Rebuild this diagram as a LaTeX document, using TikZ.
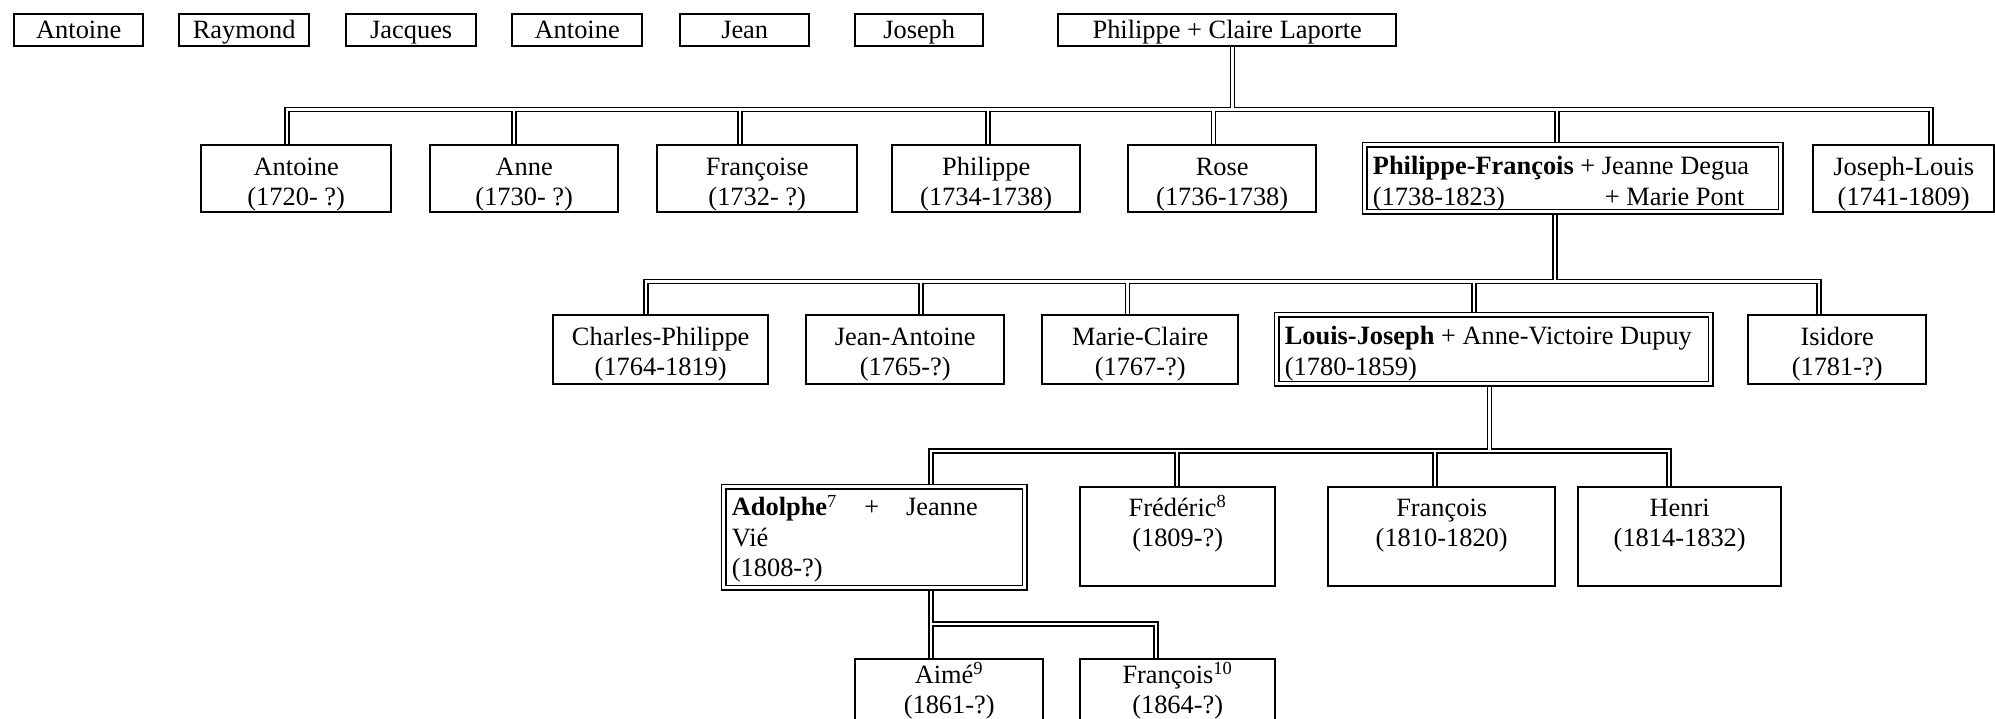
\documentclass[tikz,border=0pt]{standalone}
\usepackage{fontspec}
\setmainfont{Liberation Serif}
\usetikzlibrary{backgrounds}
\newdimen\px
\px=0.5pt

\begin{document}
\begin{tikzpicture}[x=0.5pt, y=-0.5pt,
				font=\fontsize{13.2}{15.25}\selectfont,
				pbox/.style n args={3}{draw, line width=1.2pt, inner sep=0pt, anchor=north west,
					execute at begin node={\begin{minipage}[t][#2\px][t]{#1\px}\centering\rule{0pt}{#3\px}},
					execute at end node={\end{minipage}}},
				lbox/.style n args={3}{draw, double, line width=0.85pt, double distance=1.4pt, inner ysep=0pt, inner xsep=4pt, anchor=north west,
					execute at begin node={\begin{minipage}[t][#2\px][t]{#1\px}\raggedright\rule{0pt}{#3\px}},
					execute at end node={\end{minipage}}},
				link/.style={draw, double, line width=0.9pt, double distance=1.1pt}]

				\useasboundingbox (0,0) rectangle (1995,718);
				\clip (0,0) rectangle (1995,718);

				% top row
				\node (top1) [pbox={129}{32}{24}] at (13,13) {Antoine};
				\node (top2) [pbox={130}{32}{24}] at (178,13) {Raymond};
				\node (top3) [pbox={130}{32}{24}] at (345,13) {Jacques};
				\node (top4) [pbox={130}{32}{24}] at (511,13) {Antoine};
				\node (top5) [pbox={129}{32}{24}] at (679,13) {Jean};
				\node (top6) [pbox={128}{32}{24}] at (854,13) {Joseph};
				\node (pc) [pbox={338}{32}{24}] at (1057,13) {Philippe + Claire Laporte};

				% children of Philippe
				\node (gen1a) [pbox={190}{67}{30}] at (200,144) {Antoine\\(1720- ?)};
				\node (gen1b) [pbox={188}{67}{30}] at (429,144) {Anne\\(1730- ?)};
				\node (gen1c) [pbox={200}{67}{30}] at (656,144) {Françoise\\(1732- ?)};
				\node (gen1d) [pbox={188}{67}{30}] at (891,144) {Philippe\\(1734-1738)};
				\node (gen1e) [pbox={188}{67}{30}] at (1127,144) {Rose\\(1736-1738)};
				\node (pf) [lbox={400}{67}{30}] at (1364,144) {\textbf{Philippe-François} + Jeanne Degua\\\makebox[232\px][l]{(1738-1823)}+ Marie Pont};
				\node (gen1g) [pbox={181}{67}{30}] at (1812,144) {Joseph-Louis\\(1741-1809)};

				% children of Philippe-François
				\node (gen2a) [pbox={215}{69}{30}] at (552,314) {Charles-Philippe\\(1764-1819)};
				\node (gen2b) [pbox={198}{69}{30}] at (805,314) {Jean-Antoine\\(1765-?)};
				\node (gen2c) [pbox={196}{69}{30}] at (1041,314) {Marie-Claire\\(1767-?)};
				\node (lj) [lbox={418}{69}{30}] at (1276,314) {\textbf{Louis-Joseph} + Anne-Victoire Dupuy\\(1780-1859)};
				\node (gen2e) [pbox={178}{69}{30}] at (1747,314) {Isidore\\(1781-?)};

				% children of Louis-Joseph
				\node (ad) [lbox={285}{101}{29}] at (723,486) {\makebox[246\px][l]{\textbf{Adolphe}\textsuperscript{7}\hfill+\hfill Jeanne}\\Vié\\(1808-?)};
				\node (gen3b) [pbox={195}{99}{29}] at (1079,486) {Frédéric\textsuperscript{8}\\(1809-?)};
				\node (gen3c) [pbox={227}{99}{29}] at (1327,486) {François\\(1810-1820)};
				\node (gen3d) [pbox={203}{99}{29}] at (1577,486) {Henri\\(1814-1832)};

				% children of Adolphe
				\node (gen4a) [pbox={188}{80}{24}] at (854,658) {Aimé\textsuperscript{9}\\(1861-?)};
				\node (gen4b) [pbox={195}{80}{24}] at (1079,658) {François\textsuperscript{10}\\(1864-?)};

				\begin{scope}[on background layer]
				\draw [link] (pc.south -| 1232.5,0) -- (1232.5,109.5)
					(gen1a.north -| 287,0) -- (287,109.5) -- (1931,109.5) -- (gen1g.north -| 1931,0)
					(gen1b.north -| 514,0) -- (514,109.5)
					(gen1c.north -| 740,0) -- (740,109.5)
					(gen1d.north -| 988,0) -- (988,109.5)
					(gen1e.north -| 1213.5,0) -- (1213.5,109.5)
					(pf.north -| 1557,0) -- (1557,109.5);
				\draw [link] (pf.south -| 1555,0) -- (1555,281.5)
					(gen2a.north -| 646,0) -- (646,281.5) -- (1819,281.5) -- (gen2e.north -| 1819,0)
					(gen2b.north -| 921,0) -- (921,281.5)
					(gen2c.north -| 1127.5,0) -- (1127.5,281.5)
					(lj.north -| 1474,0) -- (1474,281.5);
				\draw [link] (lj.south -| 1489.5,0) -- (1489.5,451)
					(ad.north -| 931,0) -- (931,451) -- (1669,451) -- (gen3d.north -| 1669,0)
					(gen3b.north -| 1177,0) -- (1177,451)
					(gen3c.north -| 1435,0) -- (1435,451);
				\draw [link] (ad.south -| 931,0) -- (gen4a.north -| 931,0)
					(931,624) -- (1156,624) -- (gen4b.north -| 1156,0);
				\end{scope}
			\end{tikzpicture}
\end{document}
